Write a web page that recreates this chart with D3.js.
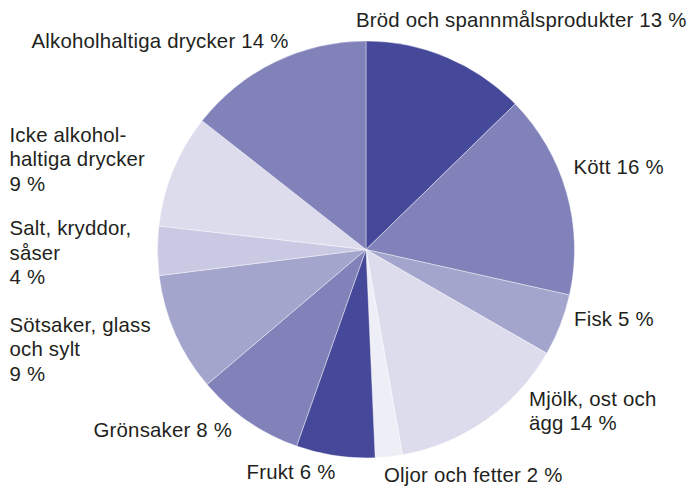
<!DOCTYPE html>
<html>
<head>
<meta charset="utf-8">
<script src="https://cdn.jsdelivr.net/npm/d3@7"></script>
<style>
	body { margin: 0; background: #fff; }
	svg { display: block; }
	.label { font-family: "Liberation Sans", Arial, sans-serif; font-size: 20.4px; letter-spacing: 0.2px; fill: #231f20; }
</style>
</head>
<body>
<svg width="695" height="488"></svg>
<script>
// shares of food spending, clockwise from 12 o'clock
const categories = ["Bröd och spannmålsprodukter", "Kött", "Fisk", "Mjölk, ost och ägg",
	"Oljor och fetter", "Frukt", "Grönsaker", "Sötsaker, glass och sylt",
	"Salt, kryddor, såser", "Icke alkoholhaltiga drycker", "Alkoholhaltiga drycker"]
const shares = [12.7, 15.8, 4.8, 13.9, 2.1, 6.1, 8.4, 9.2, 3.8, 8.8, 14.4]
// how each label is broken into lines, {v} is the rounded share
const labelLines = [
	["Bröd och spannmålsprodukter {v} %"],
	["Kött {v} %"],
	["Fisk {v} %"],
	["Mjölk, ost och", "ägg {v} %"],
	["Oljor och fetter {v} %"],
	["Frukt {v} %"],
	["Grönsaker {v} %"],
	["Sötsaker, glass", "och sylt", "{v} %"],
	["Salt, kryddor,", "såser", "{v} %"],
	["Icke alkohol-", "haltiga drycker", "{v} %"],
	["Alkoholhaltiga drycker {v} %"]
]

// layout
var cx = 366, cy = 249.5, radius = 208.5, lineHeight = 24.5
var sliceColors = ["#46489a", "#8182b9", "#a4a5cd", "#dcdced", "#eeeef6",
	"#46489a", "#8182b9", "#a4a5cd", "#c9c9e3", "#dcdced", "#8182b9"]
// first baseline of each label
var labelPos = [[356, 26.7], [573.5, 174.3], [574, 325.7], [529, 405.7], [384, 482],
	[246.5, 478.5], [93.5, 436.7], [9.5, 331.7], [9.5, 235], [9.5, 141.7], [31.5, 47.7]]

var svg = d3.select("svg")

var color = d3.scaleOrdinal()
	.domain(categories)
	.range(sliceColors)

var pie = d3.pie()
	.sort(null)
	.value(function(d) { return d.share })

var arc = d3.arc()
	.innerRadius(0)
	.outerRadius(radius)

var data = categories.map(function(c, i) {
	return { name: c, share: shares[i] }
})

var g = svg.append("g")
	.attr("transform", "translate(" + cx + "," + cy + ")")

g.selectAll("path")
	.data(pie(data))
	.enter()
	.append("path")
	.attr("d", arc)
	.attr("fill", function(d) { return color(d.data.name) })
	.attr("stroke", "#fff")
	.attr("stroke-width", 0.4)

var labels = svg.selectAll("text.label")
	.data(data)
	.enter()
	.append("text")
	.attr("class", "label")
	.attr("x", function(d, i) { return labelPos[i][0] })
	.attr("y", function(d, i) { return labelPos[i][1] })

labels.each(function(d, i) {
	var t = d3.select(this)
	labelLines[i].forEach(function(line, k) {
		t.append("tspan")
			.attr("x", labelPos[i][0])
			.attr("dy", k == 0 ? 0 : lineHeight)
			.text(line.replace("{v}", Math.round(d.share)))
	})
})
</script>
</body>
</html>
